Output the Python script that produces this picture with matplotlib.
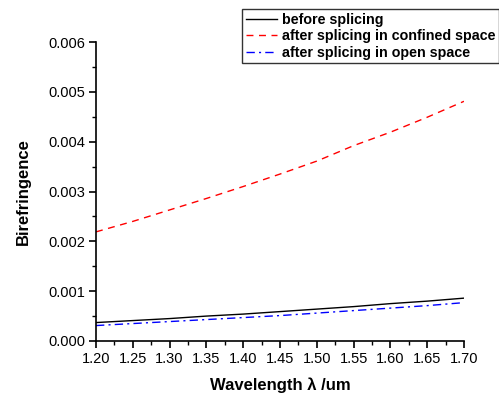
import numpy as np
import matplotlib
matplotlib.use('Agg')
import matplotlib.pyplot as plt
from matplotlib.ticker import MultipleLocator, FormatStrFormatter

plt.rcParams['font.family'] = ['Liberation Sans', 'DejaVu Sans']

# Данные
wavelength = [1.20, 1.25, 1.30, 1.35, 1.40, 1.45, 1.50, 1.55, 1.60, 1.65, 1.70]
before = [0.00037, 0.00041, 0.00045, 0.00050, 0.00054, 0.00059, 0.00064, 0.00069, 0.00075, 0.00080, 0.00086]
confined = [0.00219, 0.00240, 0.00263, 0.00286, 0.00310, 0.00335, 0.00361, 0.00392, 0.00419, 0.00449, 0.00481]
open_space = [0.00031, 0.00035, 0.00039, 0.00043, 0.00047, 0.00051, 0.00056, 0.00061, 0.00066, 0.00071, 0.00077]

labels = ['before splicing', 'after splicing in confined space', 'after splicing in open space']

fig = plt.figure(figsize=(4.99, 3.98), dpi=100)
ax = fig.add_axes([96/499, 1 - 341/398, (464 - 96)/499, (341 - 42)/398])

ax.plot(wavelength, before, color='black', lw=1.0, label=labels[0])
ax.plot(wavelength, confined, color='red', lw=1.0, ls=(0, (5, 4)), label=labels[1])
ax.plot(wavelength, open_space, color='blue', lw=1.0, ls=(0, (6, 3, 1.5, 3)), label=labels[2])

ax.set_xlim(1.20, 1.70)
ax.set_ylim(0.0, 0.006)
ax.xaxis.set_major_locator(MultipleLocator(0.05))
ax.xaxis.set_minor_locator(MultipleLocator(0.025))
ax.yaxis.set_major_locator(MultipleLocator(0.001))
ax.yaxis.set_minor_locator(MultipleLocator(0.0005))
ax.xaxis.set_major_formatter(FormatStrFormatter('%.2f'))
ax.yaxis.set_major_formatter(FormatStrFormatter('%.3f'))

for s in ['top', 'right']:
    ax.spines[s].set_visible(False)
for s in ['left', 'bottom']:
    ax.spines[s].set_linewidth(1.2)

ax.tick_params(which='major', direction='out', length=5, width=1.2, labelsize=10.5, pad=3)
ax.tick_params(which='minor', direction='out', length=3, width=1.0)

ax.set_xlabel('Wavelength λ /um', fontsize=12, fontweight='bold', labelpad=8)
ax.set_ylabel('Birefringence', fontsize=12, fontweight='bold', labelpad=12)

leg = fig.legend(loc='upper left', bbox_to_anchor=(242/499, 1 - 9/398),
                 prop={'weight': 'bold', 'size': 10.3}, frameon=True, fancybox=False,
                 handlelength=2.2, handletextpad=0.35, labelspacing=0.18,
                 borderpad=0.25, borderaxespad=0)
leg.get_frame().set_edgecolor('black')
leg.get_frame().set_linewidth(1.0)

fig.savefig('out.png', dpi=100)
